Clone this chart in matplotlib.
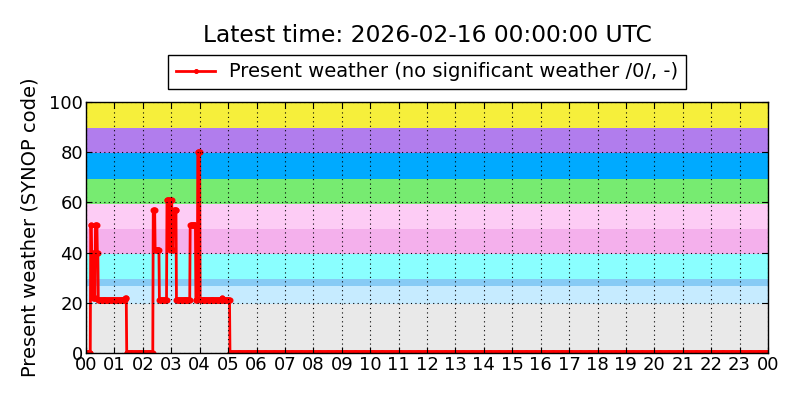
import numpy as np
import matplotlib
matplotlib.use("Agg")
import matplotlib.pyplot as plt
import matplotlib.dates as mdates
import datetime as dt

# ---- data ----
day_start = dt.datetime(2026, 2, 15, 0, 0)
# run-length readings: minute at which a value starts, and the value
run_start_min = [0, 10, 12, 15, 20, 24, 26, 83, 86, 142, 146, 155, 171, 177, 178,
                 182, 185, 191, 220, 232, 236, 241, 287, 289, 304]
run_value = [0, 51, 40, 22, 51, 40, 21, 22, 0, 57, 41, 21, 61, 41, 61,
             41, 57, 21, 51, 21, 80, 21, 22, 21, 0]
series_end_min = 1440

band_edges = [0, 19.5, 26.5, 29.5, 39.5, 49.5, 59.5, 69.5, 79.5, 89.5, 100]
band_colors = ["#e9e9e9", "#c6ebff", "#87cbf5", "#8affff", "#f4b0ec",
               "#fdccf5", "#77eb71", "#00aaff", "#b17ded", "#f6ef3b"]

title = "Latest time: 2026-02-16 00:00:00 UTC"
legend_label = "Present weather (no significant weather /0/, -)"
ylabel = "Present weather (SYNOP code)"
yticks = [0, 20, 40, 60, 80, 100]

# decode the run-length readings to the 1-minute series
lengths = np.diff(run_start_min + [series_end_min + 1])
values = np.repeat(run_value, lengths)
times = [day_start + dt.timedelta(minutes=int(m)) for m in range(len(values))]

fig = plt.figure(figsize=(8, 4), dpi=100)
ax = fig.add_axes([0.1075, 0.1175, 0.8525, 0.6275])

for lo, hi, c in zip(band_edges[:-1], band_edges[1:], band_colors):
    ax.axhspan(lo, hi, color=c, lw=0, zorder=0)

ax.plot(times, values, color="red", lw=2, marker="o", markersize=3.5,
        markeredgecolor="red", markeredgewidth=0.8, label=legend_label, zorder=2)

ax.set_xlim(day_start, day_start + dt.timedelta(days=1))
ax.set_ylim(0, 100)
ax.set_yticks(yticks)
ax.xaxis.set_major_locator(mdates.HourLocator(interval=1))
ax.xaxis.set_major_formatter(mdates.DateFormatter("%H"))
ax.grid(True, color="black", linestyle=(0, (1, 3)), linewidth=0.8, zorder=3)
ax.set_axisbelow(False)
ax.tick_params(direction="in", top=True, right=True, labelsize=13, length=4, pad=2)
for s in ax.spines.values():
    s.set_linewidth(1.0)
    s.set_zorder(4)
ax.set_ylabel(ylabel, fontsize=14, labelpad=7)
fig.text(0.534, 0.94, title, fontsize=16.8, ha="center", va="top")
leg = ax.legend(loc="center", bbox_to_anchor=(0.5, 1.12), fontsize=14,
                fancybox=False, framealpha=1, edgecolor="black", borderpad=0.4,
                handlelength=2.0, handletextpad=0.7, markerscale=0.8)
leg.get_frame().set_linewidth(1.0)

fig.savefig("out.png", dpi=100, facecolor="white")
